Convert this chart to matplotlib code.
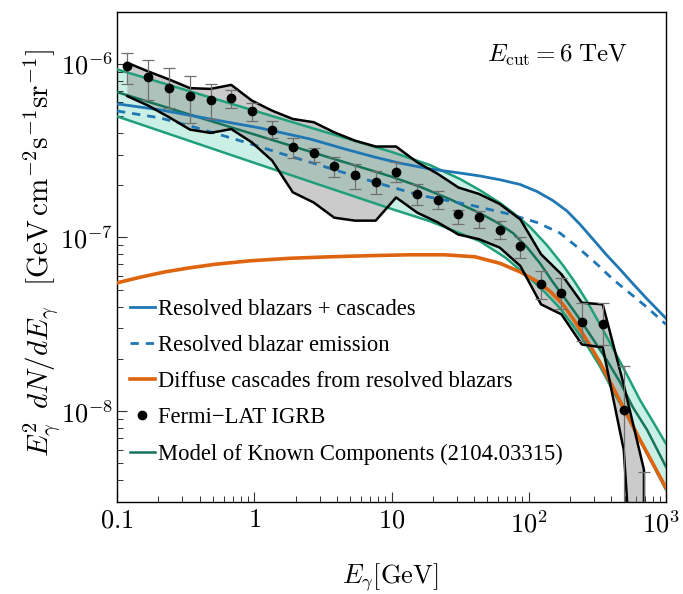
import numpy as np
import matplotlib
matplotlib.use('Agg')
import matplotlib.pyplot as plt
import matplotlib.transforms as mtransforms
from matplotlib.ticker import FixedLocator, FixedFormatter, NullFormatter, LogLocator

plt.rcParams['mathtext.fontset'] = 'cm'
plt.rcParams['font.family'] = ['Liberation Serif', 'DejaVu Serif']

# ---------------- data ----------------
# Fermi-LAT IGRB points
E_pts = [0.119, 0.169, 0.240, 0.340, 0.480, 0.680, 0.960, 1.35, 1.91, 2.71, 3.83, 5.42, 7.67,
         10.8, 15.4, 21.8, 30.7, 43.5, 61.4, 86.9, 123, 173, 244, 346, 492, 691]
v_pts = [9.65e-7, 8.38e-7, 7.30e-7, 6.51e-7, 6.22e-7, 6.36e-7, 5.33e-7, 4.18e-7, 3.33e-7, 3.06e-7,
         2.58e-7, 2.28e-7, 2.10e-7, 2.37e-7, 1.79e-7, 1.65e-7, 1.36e-7, 1.31e-7, 1.11e-7, 8.94e-8,
         5.39e-8, 4.81e-8, 3.27e-8, 3.16e-8, 1.02e-8, 1.5e-9]
err_hi = [1.157e-6, 1.045e-6, 9.44e-7, 8.49e-7, 7.60e-7, 7.05e-7, 5.93e-7, 4.67e-7, 3.74e-7, 3.26e-7,
          2.92e-7, 2.64e-7, 2.42e-7, 2.72e-7, 2.03e-7, 1.86e-7, 1.44e-7, 1.42e-7, 1.25e-7, 1.0e-7,
          6.41e-8, 5.87e-8, 4.21e-8, 4.21e-8, 1.81e-8, 4.49e-9]
err_lo = [7.66e-7, 6.22e-7, 5.55e-7, 4.57e-7, 4.81e-7, 5.55e-7, 4.71e-7, 3.72e-7, 2.86e-7, 2.73e-7,
          2.23e-7, 1.90e-7, 1.78e-7, 2.08e-7, 1.53e-7, 1.46e-7, 1.19e-7, 1.14e-7, 9.77e-8, 7.66e-8,
          4.40e-8, 3.85e-8, 2.53e-8, 2.39e-8, 1.0e-9, 1.0e-10]

# Fermi-LAT systematic envelope (gray band)
env_hi = [1.013e-6, 9.03e-7, 8.12e-7, 7.24e-7, 7.17e-7, 7.56e-7, 6.14e-7, 5.37e-7, 4.81e-7, 4.61e-7,
          4.03e-7, 3.61e-7, 3.34e-7, 3.34e-7, 2.71e-7, 2.32e-7, 1.94e-7, 1.78e-7, 1.56e-7, 1.27e-7,
          8.0e-8, 6.14e-8, 4.21e-8, 4.12e-8, 1.42e-8, 4.6e-9]
env_lo = [6.51e-7, 5.74e-7, 4.92e-7, 4.18e-7, 4.00e-7, 4.21e-7, 3.53e-7, 2.77e-7, 1.82e-7, 1.59e-7,
          1.30e-7, 1.25e-7, 1.25e-7, 1.70e-7, 1.39e-7, 1.22e-7, 1.04e-7, 9.77e-8, 8.75e-8, 6.85e-8,
          4.12e-8, 3.61e-8, 2.42e-8, 2.33e-8, 6.0e-9, 1e-10]

# Resolved blazars + cascades (solid blue)
E_tot = [0.1, 0.206, 0.476, 1.10, 2.55, 4.58, 7.58, 11.5, 19.1, 31.6, 44.1, 61.7, 86.4, 114.9,
         150.2, 190, 236.3, 293.9, 365.5, 462.1, 574.8, 727, 1000]
v_tot = [5.88e-7, 5.43e-7, 4.81e-7, 4.27e-7, 3.69e-7, 3.23e-7, 2.90e-7, 2.68e-7, 2.48e-7, 2.35e-7,
         2.26e-7, 2.15e-7, 2.02e-7, 1.84e-7, 1.63e-7, 1.42e-7, 1.19e-7, 9.77e-8, 8.0e-8, 6.56e-8,
         5.41e-8, 4.43e-8, 3.42e-8]

# Resolved blazar emission (dashed blue)
E_res = [0.1, 0.206, 0.340, 0.592, 0.996, 1.62, 2.68, 4.43, 7.58, 16.1, 37.3, 73.0, 114.9, 169,
         236.3, 314.4, 411, 547, 727, 1000]
v_res = [5.35e-7, 4.88e-7, 4.39e-7, 3.86e-7, 3.41e-7, 3.02e-7, 2.68e-7, 2.37e-7, 2.08e-7, 1.75e-7,
         1.54e-7, 1.36e-7, 1.22e-7, 1.06e-7, 8.55e-8, 7.01e-8, 5.74e-8, 4.77e-8, 3.96e-8, 3.16e-8]

# Diffuse cascades (orange)
E_cas = [0.1, 0.147, 0.224, 0.340, 0.518, 0.931, 1.82, 3.56, 6.97, 13.6, 24.5, 40.6, 61.7, 86.4,
         114.9, 142.8, 177.6, 217.3, 265.7, 330.4, 411.1, 511, 646.4, 804, 1000]
v_cas = [5.48e-8, 5.90e-8, 6.34e-8, 6.69e-8, 7.01e-8, 7.34e-8, 7.59e-8, 7.74e-8, 7.86e-8, 7.95e-8,
         7.95e-8, 7.74e-8, 7.10e-8, 6.34e-8, 5.59e-8, 4.90e-8, 4.12e-8, 3.28e-8, 2.55e-8, 1.91e-8,
         1.37e-8, 9.8e-9, 6.85e-9, 4.98e-9, 3.62e-9]

# Model of known components: central line and band edges
E_mc = [0.1, 1, 10, 16.1, 26.7, 44.1, 58.7, 76.8, 97.1, 120.8, 150.2, 190, 236.3, 293.9, 371.6,
        462.1, 574.8, 727, 1000]
v_mc = [6.87e-7, 3.92e-7, 2.24e-7, 1.96e-7, 1.66e-7, 1.38e-7, 1.22e-7, 1.06e-7, 8.79e-8, 7.10e-8,
        5.52e-8, 4.29e-8, 3.37e-8, 2.60e-8, 1.96e-8, 1.47e-8, 1.05e-8, 7.82e-9, 4.78e-9]
E_mu = [0.1, 1, 10, 19.1, 31.6, 44.1, 61.7, 79.4, 102.1, 135.8, 177.6, 217.3, 265.7, 330.4, 411.1,
        519.6, 646.4, 804, 1000]
v_mu = [9.29e-7, 5.37e-7, 3.11e-7, 2.61e-7, 2.17e-7, 1.87e-7, 1.58e-7, 1.36e-7, 1.15e-7, 9.02e-8,
        6.92e-8, 5.52e-8, 4.29e-8, 3.16e-8, 2.30e-8, 1.62e-8, 1.16e-8, 8.70e-9, 6.49e-9]
E_ml = [0.1, 1, 10, 19.1, 44.1, 67.1, 102.1, 131.3, 169, 210.1, 265.7, 330.4, 411.1, 519.6, 646.4,
        804, 1000]
v_ml = [4.98e-7, 2.69e-7, 1.46e-7, 1.24e-7, 9.51e-8, 7.69e-8, 5.82e-8, 4.83e-8, 3.91e-8, 3.11e-8,
        2.39e-8, 1.81e-8, 1.31e-8, 9.42e-9, 6.76e-9, 4.91e-9, 3.52e-9]

x_ticks = [0.1, 1, 10, 100, 1000]
x_labels = [r'$0.1$', r'$1$', r'$10$', r'$10^2$', r'$10^3$']
y_ticks = [1e-8, 1e-7, 1e-6]
y_labels = [r'$10^{-8}$', r'$10^{-7}$', r'$10^{-6}$']

# ---------------- plot ----------------
fig = plt.figure(figsize=(6.83, 5.94), dpi=100)
ax = fig.add_axes([117/683, 1-502/594, (666-117)/683, (502-11.5)/594])
ax.set_xscale('log')
ax.set_yscale('log')

c_blue = '#1f77b4'
c_orange = '#de6410'
c_green = '#1fa07a'
c_dgreen = '#17735a'

# teal band
ax.fill(np.r_[E_mu, E_ml[::-1]], np.r_[v_mu, v_ml[::-1]], color='#3cc79e', alpha=0.27, lw=0, zorder=1)
# gray envelope
ax.fill_between(E_pts, env_lo, env_hi, color='#8c8c8c', alpha=0.45, lw=0, zorder=2)

ax.plot(E_mu, v_mu, color=c_green, lw=1.8, zorder=3)
ax.plot(E_ml, v_ml, color=c_green, lw=1.8, zorder=3)
ax.plot(E_mc, v_mc, color=c_dgreen, lw=1.8, zorder=3, label='Model of Known Components (2104.03315)')

ax.plot(E_tot, v_tot, color=c_blue, lw=2.0, zorder=4, label='Resolved blazars + cascades')
ax.plot(E_res, v_res, color=c_blue, lw=2.0, ls=(0, (3, 2.5)), zorder=4, label='Resolved blazar emission')
ax.plot(E_cas, v_cas, color=c_orange, lw=2.6, zorder=4, label='Diffuse cascades from resolved blazars')

# envelope outline
ax.plot(E_pts + [E_pts[-1]], env_hi + [1e-10], color='black', lw=1.8, zorder=5)
ax.plot(E_pts, env_lo, color='black', lw=1.8, zorder=5)

# data points
v = np.array(v_pts)
yerr = [v - np.array(err_lo), np.array(err_hi) - v]
ax.errorbar(E_pts, v_pts, yerr=yerr, fmt='none', ecolor='#707070', elinewidth=0.9,
            capsize=4, capthick=0.9, zorder=6)
ax.plot(E_pts, v_pts, 'o', color='black', ms=6, ls='none', zorder=7, label='Fermi$-$LAT IGRB')

ax.set_xlim(0.1, 1000)
ax.set_ylim(3e-9, 2e-6)

ax.xaxis.set_major_locator(FixedLocator(x_ticks))
ax.xaxis.set_major_formatter(FixedFormatter(x_labels))
ax.xaxis.set_minor_locator(LogLocator(base=10, subs=np.arange(2, 10), numticks=20))
ax.xaxis.set_minor_formatter(NullFormatter())
ax.yaxis.set_major_locator(FixedLocator(y_ticks))
ax.yaxis.set_major_formatter(FixedFormatter(y_labels))
ax.yaxis.set_minor_locator(LogLocator(base=10, subs=np.arange(2, 10), numticks=20))
ax.yaxis.set_minor_formatter(NullFormatter())

ax.tick_params(which='both', direction='in', top=False, right=False, color='#333333')
ax.tick_params(which='major', length=7, width=0.8, labelsize=19)
ax.tick_params(which='minor', length=4, width=0.7)
ax.tick_params(axis='x', which='major', pad=6)
ax.tick_params(axis='y', which='major', pad=3)
for s in ax.spines.values():
    s.set_linewidth(1.0)

fig.canvas.draw()
last = ax.get_xticklabels()[-1]
last.set_transform(last.get_transform() + mtransforms.ScaledTranslation(-5/100, 0, fig.dpi_scale_trans))

fig.text(390/683, 1-577/594, r'$E_\gamma[\mathrm{GeV}]$', fontsize=19, ha='center', va='center')
fig.text(43/683, 1-253/594,
         r'$E_\gamma^2\;\,dN/dE_\gamma\;\;\;[\mathrm{GeV\,cm^{-2}s^{-1}sr^{-1}}]$',
         fontsize=21, ha='center', va='center', rotation=90)
fig.text(557/683, 1-55/594, r'$E_{\rm cut} = 6\;\mathrm{TeV}$', fontsize=18, ha='center', va='center')

h, l = ax.get_legend_handles_labels()
order = ['Resolved blazars + cascades', 'Resolved blazar emission',
         'Diffuse cascades from resolved blazars', 'Fermi$-$LAT IGRB',
         'Model of Known Components (2104.03315)']
hd = dict(zip(l, h))
leg = ax.legend([hd[k] for k in order], [k.replace('$-$', '\u2212') for k in order],
                loc='lower left', bbox_to_anchor=(0.0155, 0.067), frameon=False, fontsize=16.3,
                handlelength=1.1, handletextpad=0.15, labelspacing=0.67, borderaxespad=0,
                borderpad=0.2)

fig.savefig('out.png', dpi=100)
